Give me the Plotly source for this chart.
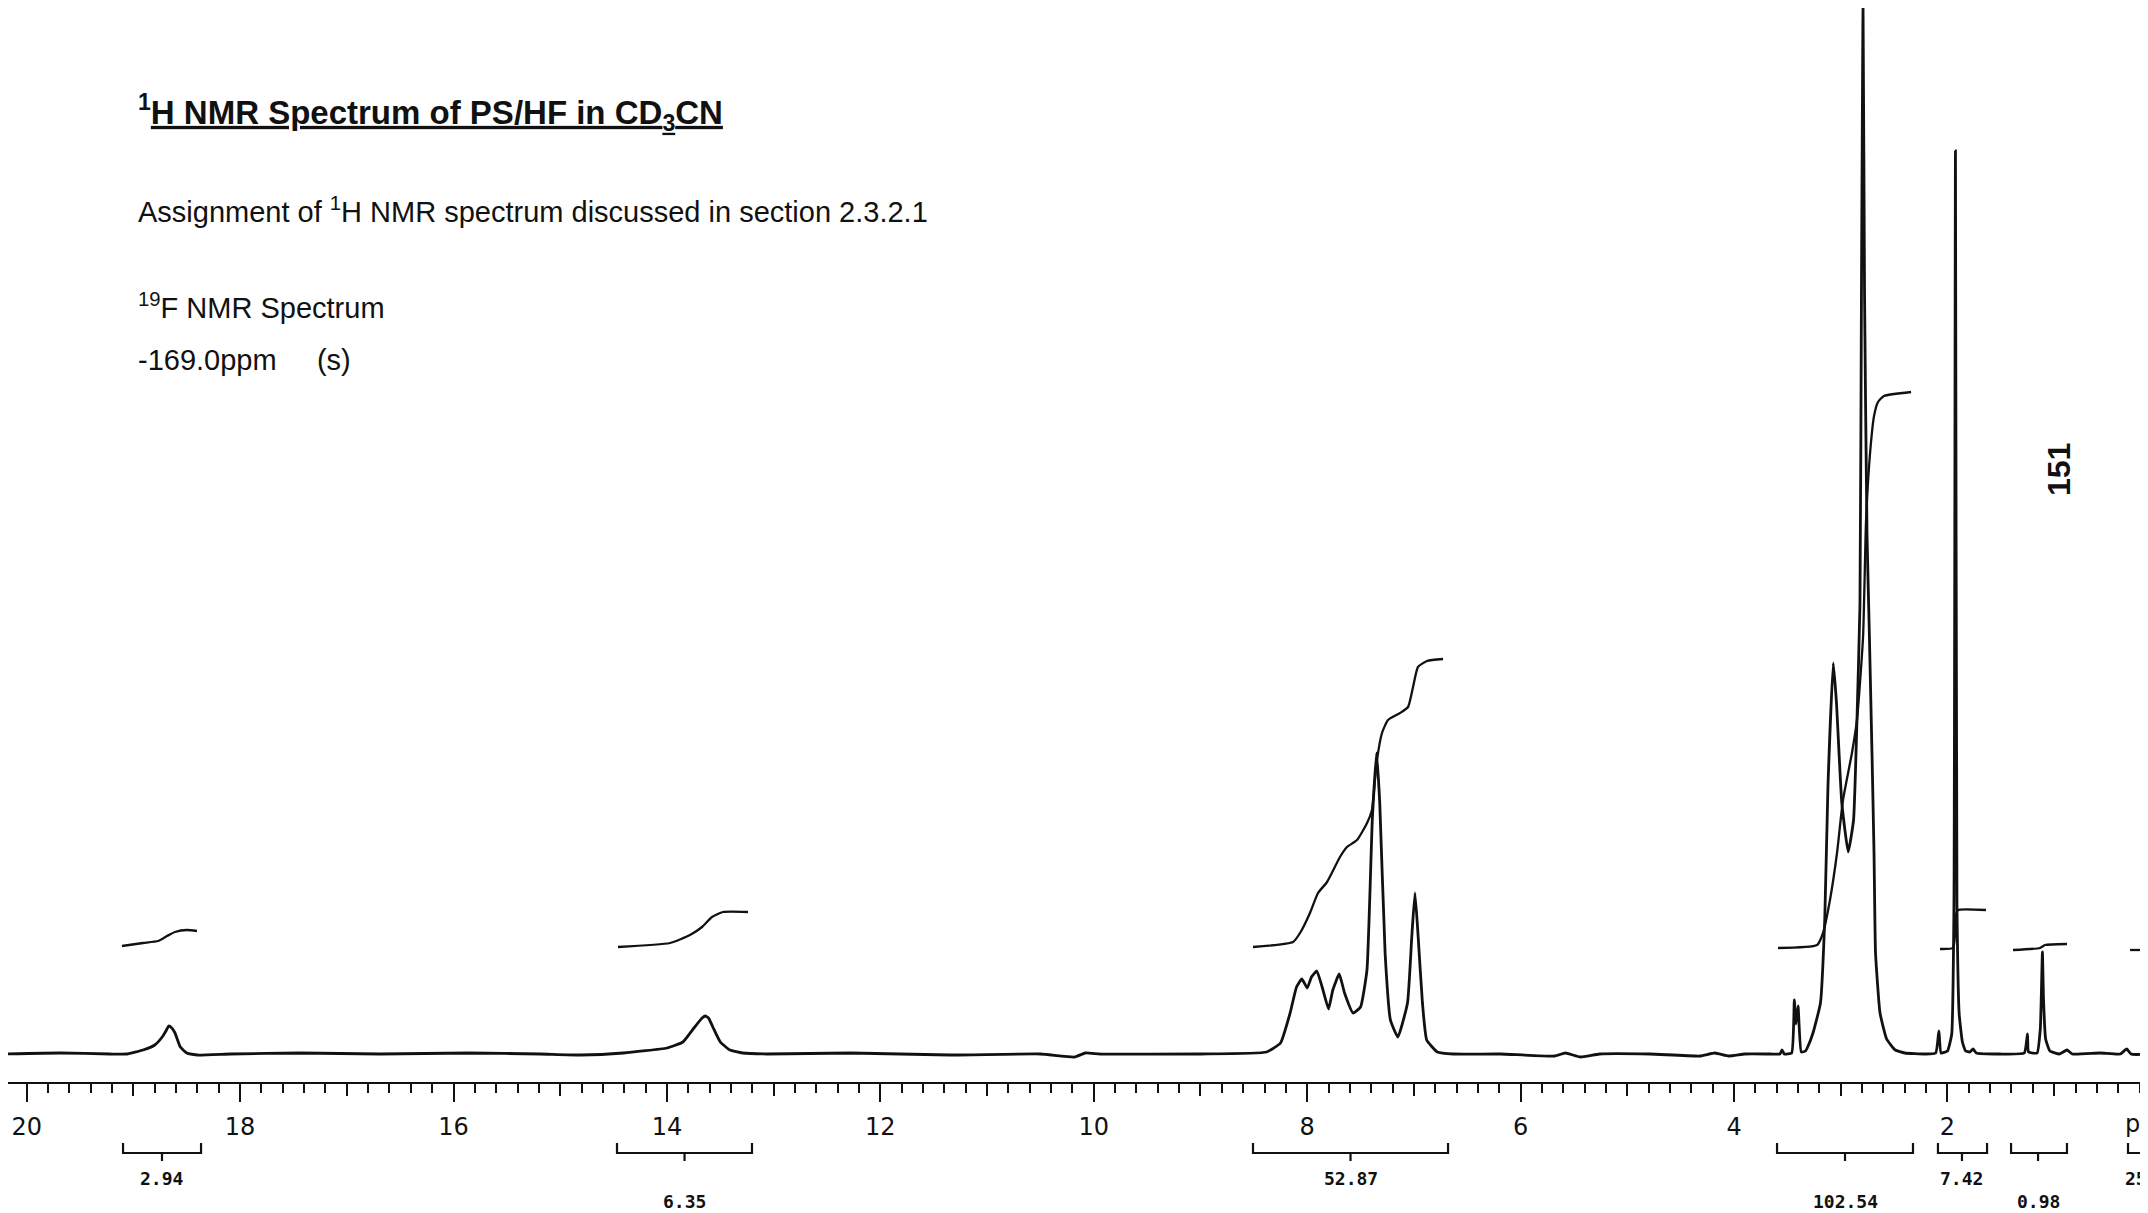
import plotly.graph_objects as go

# ---------------- data ----------------
# 1H spectrum trace: chemical shift (ppm) and intensity (arbitrary units, baseline = 0)
spec_ppm = [20.25, 19.69, 19.22, 19.06, 18.91, 18.80, 18.73, 18.69, 18.67, 18.64, 18.61, 18.56, 18.50, 18.40,
            18.09, 17.44, 16.69, 15.85, 15.19, 14.81, 14.41, 14.00, 13.85, 13.74, 13.67, 13.64, 13.61, 13.57,
            13.50, 13.41, 13.29, 13.06, 12.28, 11.35, 10.50, 10.18, 10.08, 9.94, 9.00,
            8.38, 8.25, 8.16, 8.10, 8.05, 8.00, 7.96, 7.91, 7.86, 7.80, 7.76, 7.70, 7.65, 7.57, 7.50, 7.44,
            7.39, 7.35, 7.32, 7.27, 7.22, 7.15, 7.06, 7.02, 6.99, 6.96, 6.92, 6.88, 6.78, 6.63,
            6.19, 5.68, 5.58, 5.44, 5.26, 4.79, 4.32, 4.18, 4.05, 3.90, 3.66, 3.57, 3.55, 3.53,
            3.46, 3.435, 3.420, 3.400, 3.37, 3.33, 3.31, 3.26, 3.19, 3.15, 3.12, 3.07, 3.04, 2.99, 2.93, 2.88,
            2.848, 2.820, 2.806, 2.791, 2.777, 2.754, 2.735, 2.707, 2.688, 2.674, 2.632, 2.57, 2.49, 2.40,
            2.21, 2.11, 2.08, 2.06, 2.00, 1.96, 1.939, 1.925, 1.911, 1.89, 1.86, 1.83, 1.79, 1.76, 1.73,
            1.51, 1.28, 1.25, 1.24, 1.16, 1.13, 1.12, 1.11, 1.10, 1.08, 1.04, 0.95, 0.88, 0.83, 0.57,
            0.38, 0.32, 0.28, 0.18, 0.16, 0.14, 0.12]
spec_int = [0, 1, 0, 0, 4, 9, 17, 24, 28, 26, 21, 7, 1, -1,
            0, 1, 0, 1, 0, -1, 1, 6, 12, 27, 36, 38, 36, 27,
            12, 4, 1, 0, 1, -1, 0, -3, 1, 0, 0,
            2, 11, 41, 67, 75, 66, 77, 83, 67, 45, 64, 80, 61, 41, 47, 84,
            234, 301, 251, 101, 34, 17, 51, 117, 161, 117, 51, 14, 2, 0,
            0, -2, 1, -3, 0, 0, -2, 1, -2, 0, 0, 0, 4, 0,
            1, 54, 30, 48, 2, 3, 7, 21, 51, 134, 267, 391, 351, 251, 202, 234,
            334, 450, 760, 1046, 760, 520, 434, 300, 200, 101, 41, 15, 4, 1,
            0, 1, 23, 1, 3, 20, 150, 903, 150, 40, 12, 3, 2, 5, 1,
            0, 1, 20, 2, 1, 25, 60, 102, 55, 15, 3, 0, 4, 0, 1,
            0, 5, 0, 0, 20, 40, 40]

# integral curves (one per region)
int_a_ppm = [19.107, 18.910, 18.769, 18.685, 18.610, 18.498, 18.404]
int_a_val = [108, 111, 113, 118, 122, 124, 123]
int_b_ppm = [14.459, 13.971, 13.784, 13.671, 13.578, 13.475, 13.240]
int_b_val = [107, 111, 119, 127, 137, 142, 142]
int_c_ppm = [8.508, 8.133, 8.067, 7.974, 7.899, 7.814, 7.693, 7.627, 7.533, 7.439, 7.393, 7.365, 7.346,
             7.299, 7.243, 7.130, 7.055, 7.008, 6.962, 6.877, 6.727]
int_c_val = [107, 112, 121, 141, 161, 172, 197, 207, 214, 231, 244, 274, 294,
             321, 334, 341, 347, 367, 387, 393, 395]
int_d_ppm = [3.588, 3.222, 3.166, 3.101, 3.035, 2.979, 2.895, 2.848, 2.791, 2.763, 2.726, 2.688, 2.651, 2.595, 2.341]
int_d_val = [106, 109, 121, 154, 201, 254, 301, 334, 417, 533, 600, 638, 652, 658, 662]
int_e_ppm = [2.070, 1.948, 1.929, 1.920, 1.901, 1.639]
int_e_val = [105, 106, 119, 139, 144, 144]
int_f_ppm = [1.386, 1.133, 1.086, 0.880]
int_f_val = [104, 106, 109, 110]
int_g_ppm = [0.289, 0.12]
int_g_val = [104, 104]

# integration brackets below the scale
brk_start = [19.097, 14.468, 8.508, 3.597, 2.089, 1.404, 0.308]
brk_end = [18.366, 13.203, 6.680, 2.323, 1.629, 0.880, 0.0]
brk_mid = [18.732, 13.835, 7.594, 2.960, 1.864, 1.151, None]
brk_label = ["2.94", "6.35", "52.87", "102.54", "7.42", "0.98", "25"]
brk_row = [1, 2, 1, 2, 1, 2, 1]

# scale labels
tick_vals = [20, 18, 16, 14, 12, 10, 8, 6, 4, 2]
tick_text = ["20", "18", "16", "14", "12", "10", "8", "6", "4", "2"]
odd_vals = [19, 17, 15, 13, 11, 9, 7, 5, 3, 1]

# ---------------- figure ----------------
# the page body has an 8 px margin, so the figure is 8 px smaller and everything is
# placed relative to the page (page px -> plot px = page px - 8)
OFF = 8
PW, PH = 2148, 1213          # page size
W, H = PW - OFF, PH - OFF    # figure size
PX_PER_PPM = 106.71
X_RANGE = [20.25 - OFF / PX_PER_PPM, 20.25 - PW / PX_PER_PPM]
BASE_Y = 1054                # page y of the spectrum baseline
Y_RANGE = [BASE_Y - PH, BASE_Y - OFF]
BLACK = "#111111"


def px(p):
    return (p - OFF) / W


def py(q):
    return (PH - q) / H


fig = go.Figure()

fig.add_trace(go.Scatter(x=spec_ppm, y=spec_int, mode="lines",
                         line=dict(color=BLACK, width=2.8, shape="spline", smoothing=0.4),
                         hoverinfo="skip"))

for xs, ys in [(int_a_ppm, int_a_val), (int_b_ppm, int_b_val), (int_c_ppm, int_c_val),
               (int_d_ppm, int_d_val), (int_e_ppm, int_e_val), (int_f_ppm, int_f_val),
               (int_g_ppm, int_g_val)]:
    fig.add_trace(go.Scatter(x=xs, y=ys, mode="lines",
                             line=dict(color=BLACK, width=2.3, shape="spline", smoothing=0.5),
                             hoverinfo="skip"))

# brackets
BR_Y, BR_END, BR_TICK = BASE_Y - 1153, BASE_Y - 1143, BASE_Y - 1161
bx, by = [], []
for s, e, m in zip(brk_start, brk_end, brk_mid):
    bx += [s, s, e, e, None]
    by += [BR_END, BR_Y, BR_Y, BR_END, None]
    if m is not None:
        bx += [m, m, None]
        by += [BR_Y, BR_TICK, None]
fig.add_trace(go.Scatter(x=bx, y=by, mode="lines", line=dict(color=BLACK, width=2.2), hoverinfo="skip"))

ROW_Y = {1: BASE_Y - 1178, 2: BASE_Y - 1201}
for lab, m, r, s in zip(brk_label, brk_mid, brk_row, brk_start):
    if m is None:
        fig.add_annotation(x=s + 0.047, y=ROW_Y[r], text="<b>%s</b>" % lab, showarrow=False,
                           xanchor="left", yanchor="middle",
                           font=dict(family="DejaVu Sans Mono", size=18, color=BLACK))
    else:
        fig.add_annotation(x=m, y=ROW_Y[r], text="<b>%s</b>" % lab, showarrow=False,
                           xanchor="center", yanchor="middle",
                           font=dict(family="DejaVu Sans Mono", size=18, color=BLACK))

# "ppm" at the end of the scale
fig.add_annotation(x=0.355, y=BASE_Y - 1124, text="ppm", showarrow=False, xanchor="left", yanchor="middle",
                   font=dict(family="DejaVu Sans", size=24, color=BLACK))

# invisible trace to activate xaxis2 (odd-ppm medium ticks)
fig.add_trace(go.Scatter(x=[None], y=[None], xaxis="x2", yaxis="y", hoverinfo="skip"))

TXT = "Liberation Sans"
fig.add_annotation(xref="paper", yref="paper", x=px(136), y=py(112),
                   text="<b><sup>1</sup><u>H NMR Spectrum of PS/HF in CD<sub>3</sub>CN</u></b>",
                   showarrow=False, xanchor="left", yanchor="middle",
                   font=dict(family=TXT, size=33, color=BLACK))
fig.add_annotation(xref="paper", yref="paper", x=px(136), y=py(210),
                   text="Assignment of <sup>1</sup>H NMR spectrum discussed in section 2.3.2.1",
                   showarrow=False, xanchor="left", yanchor="middle",
                   font=dict(family=TXT, size=29, color=BLACK))
fig.add_annotation(xref="paper", yref="paper", x=px(136), y=py(306),
                   text="<sup>19</sup>F NMR Spectrum",
                   showarrow=False, xanchor="left", yanchor="middle",
                   font=dict(family=TXT, size=29, color=BLACK))
fig.add_annotation(xref="paper", yref="paper", x=px(136), y=py(360),
                   text="-169.0ppm     (s)",
                   showarrow=False, xanchor="left", yanchor="middle",
                   font=dict(family=TXT, size=29, color=BLACK))
fig.add_annotation(xref="paper", yref="paper", x=px(2059), y=py(470),
                   text="<b>151</b>", textangle=-90,
                   showarrow=False, xanchor="center", yanchor="middle",
                   font=dict(family=TXT, size=32, color=BLACK))

AX_POS = py(1083)
fig.update_layout(
    width=W, height=H,
    margin=dict(l=0, r=0, t=0, b=0),
    paper_bgcolor="white", plot_bgcolor="white",
    showlegend=False,
    xaxis=dict(range=X_RANGE, domain=[0, 1], anchor="free", position=AX_POS,
               showgrid=False, zeroline=False,
               showline=True, linecolor=BLACK, linewidth=2,
               tickmode="array", tickvals=tick_vals, ticktext=tick_text,
               ticks="outside", ticklen=18, tickwidth=2, tickcolor=BLACK,
               ticklabelstandoff=4,
               tickfont=dict(family="DejaVu Sans", size=24, color=BLACK),
               minor=dict(dtick=0.2, tick0=0, ticks="outside", ticklen=9, tickwidth=2, tickcolor=BLACK,
                          showgrid=False)),
    xaxis2=dict(range=X_RANGE, domain=[0, 1], anchor="free", position=AX_POS, overlaying="x",
                showgrid=False, zeroline=False, showline=False,
                tickmode="array", tickvals=odd_vals, showticklabels=False,
                ticks="outside", ticklen=12, tickwidth=2, tickcolor=BLACK),
    yaxis=dict(range=Y_RANGE, domain=[0, 1], visible=False, showgrid=False, zeroline=False),
)

fig.write_html("out.html")
